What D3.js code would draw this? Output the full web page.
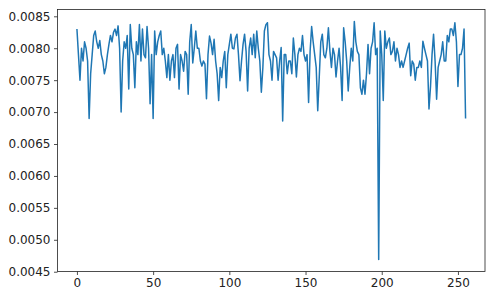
<!DOCTYPE html>
<html>
<head>
<meta charset="utf-8">
<script src="https://cdn.jsdelivr.net/npm/d3@7"></script>
<style>
  body { margin: 0; background: #fff; }
  text { font-family: "DejaVu Sans", sans-serif; fill: #222; }
</style>
</head>
<body>
<script>
// ! Values, one per index 0..255
// prettier-ignore
const values = [
  0.0083, 0.0079, 0.0075, 0.0080, 0.0078, 0.0081, 0.0080, 0.0078, 0.0069, 0.0076,
  0.0079, 0.0082, 0.00827, 0.0081, 0.0080, 0.00812, 0.0079, 0.0078, 0.0076, 0.0077,
  0.0079, 0.00806, 0.0082, 0.0081, 0.00825, 0.0083, 0.0082, 0.00835, 0.0080, 0.0070,
  0.0078, 0.0081, 0.0080, 0.0082, 0.00736, 0.00837, 0.0080, 0.0079, 0.00738, 0.0081,
  0.0079, 0.00837, 0.0078, 0.0083, 0.0079, 0.00785, 0.00834, 0.0080, 0.00713, 0.0079,
  0.0069, 0.00827, 0.0079, 0.0081, 0.0082, 0.00827, 0.0079, 0.0080, 0.0078, 0.00754,
  0.0079, 0.0075, 0.0078, 0.0079, 0.00754, 0.0080, 0.00806, 0.00736, 0.0079, 0.0078,
  0.00764, 0.00795, 0.0079, 0.00728, 0.0081, 0.00837, 0.00777, 0.0080, 0.00827, 0.0080,
  0.0080, 0.0078, 0.00772, 0.0078, 0.00775, 0.00721, 0.0079, 0.00819, 0.00808, 0.0079,
  0.00814, 0.0078, 0.0076, 0.00718, 0.0077, 0.00754, 0.0078, 0.00795, 0.00738, 0.0079,
  0.00806, 0.00822, 0.0080, 0.00799, 0.00816, 0.00822, 0.0079, 0.00749, 0.0078, 0.00806,
  0.00822, 0.00795, 0.00733, 0.0080, 0.00816, 0.0079, 0.00822, 0.00785, 0.00827, 0.0080,
  0.0078, 0.00731, 0.0077, 0.00827, 0.00837, 0.0084, 0.0079, 0.0078, 0.0075, 0.00795,
  0.0079, 0.00785, 0.0075, 0.0078, 0.00801, 0.00686, 0.0079, 0.0079, 0.0076, 0.0078,
  0.0078, 0.0076, 0.00816, 0.0079, 0.00755, 0.0079, 0.0080, 0.00795, 0.0082, 0.0079,
  0.0078, 0.0079, 0.00715, 0.00795, 0.00834, 0.0081, 0.0079, 0.0077, 0.00702, 0.00755,
  0.0081, 0.00822, 0.0079, 0.00785, 0.0080, 0.00832, 0.00795, 0.0077, 0.0080, 0.0079,
  0.00755, 0.0078, 0.0080, 0.0077, 0.00718, 0.00832, 0.0081, 0.0078, 0.00733, 0.0077,
  0.0080, 0.0078, 0.00842, 0.0081, 0.00795, 0.0079, 0.00738, 0.00728, 0.0075, 0.00728,
  0.0076, 0.00806, 0.0076, 0.0080, 0.0081, 0.0084, 0.0079, 0.0080, 0.00469, 0.00827,
  0.0079, 0.00718, 0.00827, 0.0080, 0.0081, 0.00816, 0.0079, 0.00795, 0.0081, 0.0078,
  0.0080, 0.0079, 0.0077, 0.0078, 0.0077, 0.0078, 0.0079, 0.0080, 0.00808, 0.00757,
  0.0078, 0.00775, 0.0075, 0.0077, 0.0077, 0.0078, 0.0077, 0.00811, 0.0080, 0.0079,
  0.0078, 0.00705, 0.0074, 0.0079, 0.00822, 0.0078, 0.0072, 0.0077, 0.0078, 0.0079,
  0.0081, 0.0078, 0.0078, 0.0082, 0.0081, 0.0083, 0.0083, 0.0082, 0.0084, 0.0081,
  0.0074, 0.0079, 0.0079, 0.0080, 0.0083, 0.0069
];
const xTicks = [0, 50, 100, 150, 200, 250];
const yTicks = [0.0045, 0.005, 0.0055, 0.006, 0.0065, 0.007, 0.0075, 0.008, 0.0085];

// ! Size of the page and plot box
const width = 493;
const height = 304;
const box = { left: 57.5, right: 485, top: 9.5, bottom: 271.5 };

const svg = d3
  .select("body")
  .append("svg")
  .attr("width", width)
  .attr("height", height);

// ! Scales with matplotlib style 5% padding
const n = values.length;
const xPad = (n - 1) * 0.05;
const xScale = d3
  .scaleLinear()
  .domain([-xPad, n - 1 + xPad])
  .range([box.left, box.right]);

const [yMin, yMax] = d3.extent(values);
const yPad = (yMax - yMin) * 0.05;
const yScale = d3
  .scaleLinear()
  .domain([yMin - yPad, yMax + yPad])
  .range([box.bottom, box.top]);

// ! The line
const line = d3
  .line()
  .x((d, i) => xScale(i))
  .y((d) => yScale(d));

svg
  .append("path")
  .datum(values)
  .attr("fill", "none")
  .attr("stroke", "#1f77b4")
  .attr("stroke-width", 1.5)
  .attr("stroke-linejoin", "round")
  .attr("d", line);

// ! Axes
const xAxisG = svg
  .append("g")
  .attr("transform", `translate(0, ${box.bottom})`)
  .call(d3.axisBottom(xScale).tickValues(xTicks).tickSize(3.5).tickSizeOuter(0).tickPadding(3.5));

const yAxisG = svg
  .append("g")
  .attr("transform", `translate(${box.left}, 0)`)
  .call(
    d3
      .axisLeft(yScale)
      .tickValues(yTicks)
      .tickFormat(d3.format(".4f"))
      .tickSize(3.5)
      .tickSizeOuter(0)
      .tickPadding(3.5)
  );

[xAxisG, yAxisG].forEach((g) => {
  g.select(".domain").remove();
  g.selectAll(".tick line").attr("stroke", "#222").attr("stroke-width", 0.8);
  g.selectAll(".tick text").style("font-size", "12px").style("fill", "#222");
});

// ! Frame round the plot
svg
  .append("rect")
  .attr("x", box.left)
  .attr("y", box.top)
  .attr("width", box.right - box.left)
  .attr("height", box.bottom - box.top)
  .attr("fill", "none")
  .attr("stroke", "#222")
  .attr("stroke-width", 0.8);
</script>
</body>
</html>
